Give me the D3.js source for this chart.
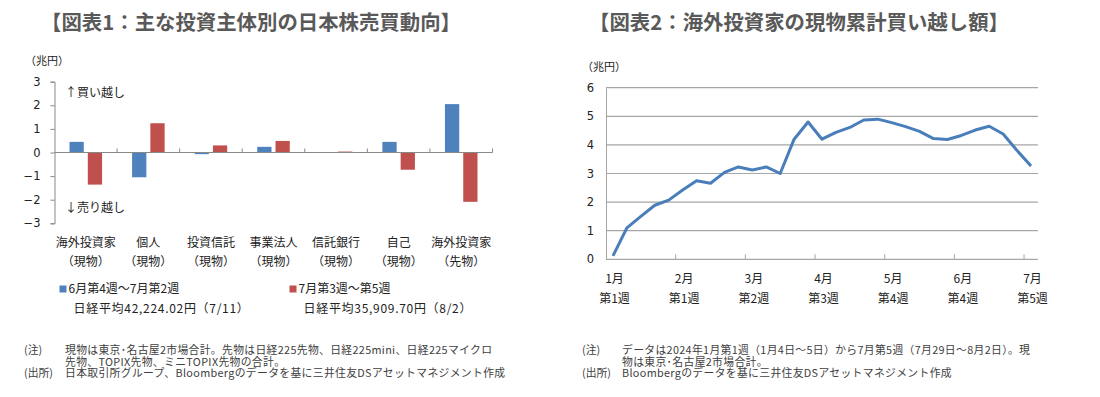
<!DOCTYPE html>
<html><head><meta charset="utf-8">
<script src="https://cdn.jsdelivr.net/npm/d3@7"></script>
<style>
html,body{margin:0;padding:0;background:#fff;}
svg{display:block;font-family:"Noto Sans CJK JP","Noto Sans",sans-serif;}
</style></head>
<body>
<svg id="c" width="1100" height="397"></svg>
<script>
// ---- Chart 1 data ----
const barCategories = [["海外投資家","（現物）"],["個人","（現物）"],["投資信託","（現物）"],["事業法人","（現物）"],["信託銀行","（現物）"],["自己","（現物）"],["海外投資家","（先物）"]];
const seriesNames = ["6月第4週～7月第2週","7月第3週～第5週"];
const seriesSub = ["日経平均42,224.02円（7/11）","日経平均35,909.70円（8/2）"];
const seriesA = [0.45, -1.05, -0.07, 0.24, 0.0, 0.45, 2.05];
const seriesB = [-1.36, 1.24, 0.30, 0.49, 0.04, -0.73, -2.09];
const barTicks = [-3,-2,-1,0,1,2,3];
// ---- Chart 2 data ----
const weekValues = [0.12,1.10,1.50,1.89,2.07,2.42,2.75,2.66,3.04,3.23,3.12,3.23,3.00,4.20,4.80,4.20,4.44,4.61,4.87,4.90,4.78,4.64,4.47,4.22,4.19,4.33,4.52,4.65,4.38,3.80,3.26];
const weekLabels = {0:["1月","第1週"],5:["2月","第1週"],10:["3月","第2週"],15:["4月","第3週"],20:["5月","第4週"],25:["6月","第4週"],30:["7月","第5週"]};
const lineTicks = [0,1,2,3,4,5,6];

const svg = d3.select("#c");
const blue = "#4F81BD", red = "#C0504D";
const titleColor = "#595959", noteColor = "#404040";

// ===== Titles =====
svg.append("text").attr("x",251).attr("y",24).attr("text-anchor","middle").attr("dominant-baseline","middle")
  .attr("font-size",20.4).attr("font-weight","bold").attr("fill",titleColor).text("【図表1：主な投資主体別の日本株売買動向】");
svg.append("text").attr("x",799).attr("y",24).attr("text-anchor","middle").attr("dominant-baseline","middle")
  .attr("font-size",20.4).attr("font-weight","bold").attr("fill",titleColor).text("【図表2：海外投資家の現物累計買い越し額】");

// ===== Chart 1: bars =====
const g1 = svg.append("g");
const x0 = d3.scaleBand().domain(d3.range(barCategories.length)).range([54.5,492.5]).padding(0);
const x1 = d3.scaleBand().domain([0,1]).range([x0.bandwidth()*0.24, x0.bandwidth()*0.76]).paddingInner(0.22);
const y1 = d3.scaleLinear().domain([-3,3]).range([223.3,81.7]);

g1.append("text").attr("x",25).attr("y",62).attr("dominant-baseline","middle").attr("font-size",11).attr("fill","#222").text("（兆円）");

// left axis
const yAx1 = g1.append("g").attr("transform",`translate(${x0.range()[0]},0)`)
  .call(d3.axisLeft(y1).tickValues(barTicks).tickSize(4).tickPadding(10).tickFormat(d3.format("d")));
yAx1.select(".domain").attr("stroke","#888");
yAx1.selectAll(".tick line").attr("stroke","#888");
yAx1.selectAll(".tick text").attr("font-size",11.5).attr("fill","#222").attr("font-family","'DejaVu Sans',sans-serif");

// bars
const bars = [seriesA, seriesB];
bars.forEach((vals,si)=>{
  g1.append("g").selectAll("rect").data(vals).join("rect")
    .attr("x",(d,i)=>x0(i)+x1(si))
    .attr("width",x1.bandwidth())
    .attr("y",d=>y1(Math.max(0,d)))
    .attr("height",d=>Math.abs(y1(d)-y1(0)))
    .attr("fill",si===0?blue:red);
});

// zero axis with category ticks going up
const zAx = g1.append("g").attr("transform",`translate(0,${y1(0)})`);
zAx.append("line").attr("x1",x0.range()[0]).attr("x2",x0.range()[1]).attr("stroke","#888");
zAx.selectAll("line.t").data(d3.range(1,barCategories.length+1)).join("line").attr("class","t")
  .attr("x1",d=>x0.range()[0]+d*x0.step()).attr("x2",d=>x0.range()[0]+d*x0.step())
  .attr("y1",0).attr("y2",-4).attr("stroke","#888");

g1.append("text").attr("x",65).attr("y",94).attr("dominant-baseline","middle").attr("font-size",12).attr("fill","#222").text("↑買い越し");
g1.append("text").attr("x",65).attr("y",209).attr("dominant-baseline","middle").attr("font-size",12).attr("fill","#222").text("↓売り越し");

// category labels
barCategories.forEach((c,i)=>{
  const cx = x0(i)+x0.bandwidth()/2;
  g1.append("text").attr("x",cx).attr("y",244).attr("text-anchor","middle").attr("dominant-baseline","middle").attr("font-size",12).attr("fill","#222").text(c[0]);
  g1.append("text").attr("x",cx).attr("y",263).attr("text-anchor","middle").attr("dominant-baseline","middle").attr("font-size",12).attr("fill","#222").text(c[1]);
});

// legend
const legX = [59.5, 289.5];
seriesNames.forEach((n,i)=>{
  g1.append("rect").attr("x",legX[i]).attr("y",285.5).attr("width",7).attr("height",7).attr("fill",i===0?blue:red);
  g1.append("text").attr("x",legX[i]+9).attr("y",289.5).attr("dominant-baseline","middle").attr("font-size",12).attr("fill","#222").text(n);
  g1.append("text").attr("x",legX[i]+14).attr("y",309.5).attr("dominant-baseline","middle").attr("font-size",12).attr("letter-spacing",0.7).attr("fill","#222").text(seriesSub[i]);
});

// notes 1
const noteSize = 10.8, noteLS = 0.35;
const n1 = [["(注)","現物は東京･名古屋2市場合計。先物は日経225先物、日経225mini、日経225マイクロ",351.5],
            ["","先物、TOPIX先物、ミニTOPIX先物の合計。",362.6],
            ["(出所)","日本取引所グループ、Bloombergのデータを基に三井住友DSアセットマネジメント作成",373.7]];
n1.forEach(r=>{
  if(r[0]) svg.append("text").attr("x",24).attr("y",r[2]).attr("dominant-baseline","middle").attr("font-size",noteSize).attr("fill",noteColor).text(r[0]);
  svg.append("text").attr("x",65).attr("y",r[2]).attr("dominant-baseline","middle").attr("font-size",noteSize).attr("letter-spacing",noteLS).attr("fill",noteColor).text(r[1]);
});

// ===== Chart 2: line =====
const g2 = svg.append("g");
const xb = d3.scaleBand().domain(d3.range(weekValues.length)).range([606,1038]).padding(0);
const y2 = d3.scaleLinear().domain([0,6]).range([259.3,87.7]);

g2.append("text").attr("x",582).attr("y",68).attr("dominant-baseline","middle").attr("font-size",11).attr("fill","#222").text("（兆円）");

// gridlines
g2.append("g").selectAll("line").data(lineTicks.filter(d=>d>0)).join("line")
  .attr("x1",606).attr("x2",1038).attr("y1",d=>y2(d)).attr("y2",d=>y2(d)).attr("stroke","#a6a6a6").attr("stroke-width",1.2);
// y axis
const yAx2 = g2.append("g").attr("transform","translate(606,0)")
  .call(d3.axisLeft(y2).tickValues(lineTicks).tickSize(0).tickPadding(12).tickFormat(d3.format("d")));
yAx2.select(".domain").attr("stroke","#a6a6a6");
yAx2.selectAll(".tick text").attr("font-size",11.5).attr("fill","#222").attr("font-family","'DejaVu Sans',sans-serif");
// x axis
g2.append("line").attr("x1",606).attr("x2",1038).attr("y1",y2(0)).attr("y2",y2(0)).attr("stroke","#a6a6a6").attr("stroke-width",1.2);
g2.append("g").selectAll("line").data(d3.range(5,weekValues.length+1,5)).join("line")
  .attr("x1",d=>606+d*xb.step()).attr("x2",d=>606+d*xb.step())
  .attr("y1",y2(0)).attr("y2",y2(0)-5).attr("stroke","#a6a6a6");

Object.entries(weekLabels).forEach(([i,l])=>{
  const cx = xb(+i)+xb.bandwidth()/2+1.5;
  g2.append("text").attr("x",cx).attr("y",280).attr("text-anchor","middle").attr("dominant-baseline","middle").attr("font-size",12).attr("fill","#222").text(l[0]);
  g2.append("text").attr("x",cx).attr("y",300).attr("text-anchor","middle").attr("dominant-baseline","middle").attr("font-size",12).attr("fill","#222").text(l[1]);
});

g2.append("path").datum(weekValues)
  .attr("d",d3.line().x((d,i)=>xb(i)+xb.bandwidth()/2).y(d=>y2(d)))
  .attr("fill","none").attr("stroke","#4A7EBB").attr("stroke-width",3).attr("stroke-linejoin","round");

// notes 2
const n2 = [["(注)","データは2024年1月第1週（1月4日～5日）から7月第5週（7月29日～8月2日）。現",351.5],
            ["","物は東京･名古屋2市場合計。",362.6],
            ["(出所)","Bloombergのデータを基に三井住友DSアセットマネジメント作成",373.7]];
n2.forEach(r=>{
  if(r[0]) svg.append("text").attr("x",582).attr("y",r[2]).attr("dominant-baseline","middle").attr("font-size",noteSize).attr("fill",noteColor).text(r[0]);
  svg.append("text").attr("x",622).attr("y",r[2]).attr("dominant-baseline","middle").attr("font-size",noteSize).attr("letter-spacing",noteLS).attr("fill",noteColor).text(r[1]);
});
</script>
</body></html>
